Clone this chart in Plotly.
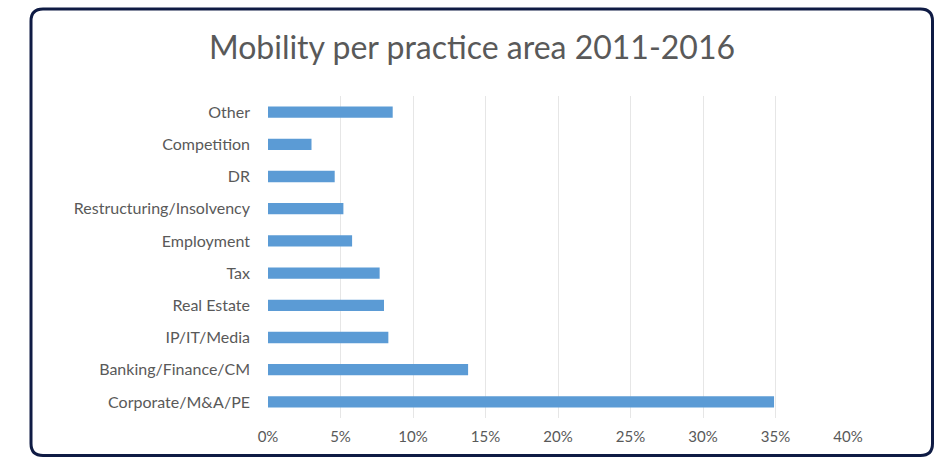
import plotly.graph_objects as go

categories = ["Corporate/M&A/PE", "Banking/Finance/CM", "IP/IT/Media", "Real Estate", "Tax",
              "Employment", "Restructuring/Insolvency", "DR", "Competition", "Other"]
values = [34.9, 13.8, 8.3, 8.0, 7.7, 5.8, 5.2, 4.6, 3.0, 8.6]
tick_vals = [0, 5, 10, 15, 20, 25, 30, 35, 40]
tick_text = ["0%", "5%", "10%", "15%", "20%", "25%", "30%", "35%", "40%"]

W, H = 944, 458
L, R, T, B = 268, 96, 96, 40
pw, ph = W - L - R, H - T - B

def px_x(p):
    return (p - L) / pw

def px_y(p):
    return (H - B - p) / ph

fig = go.Figure(go.Bar(
    x=values, y=categories, orientation="h",
    marker=dict(color="#5b9bd5", line=dict(width=0)),
    hoverinfo="x+y",
))

# rounded border
x0, x1, y0, y1, r = 31, 932.5, 9, 455.5, 12
rx, ry = r / pw, r / ph
X0, X1, Y0, Y1 = px_x(x0), px_x(x1), px_y(y0), px_y(y1)
path = (f"M {X0+rx},{Y0} L {X1-rx},{Y0} Q {X1},{Y0} {X1},{Y0-ry} "
        f"L {X1},{Y1+ry} Q {X1},{Y1} {X1-rx},{Y1} "
        f"L {X0+rx},{Y1} Q {X0},{Y1} {X0},{Y1+ry} "
        f"L {X0},{Y0-ry} Q {X0},{Y0} {X0+rx},{Y0} Z")

fig.update_layout(
    width=W, height=H,
    margin=dict(l=L, r=R, t=T, b=B),
    paper_bgcolor="white", plot_bgcolor="white",
    showlegend=False,
    bargap=0.65,
    font=dict(family="Lato, Open Sans, sans-serif", size=15, color="#595959"),
    title=dict(text="Mobility per practice area 2011-2016", x=472 / W, xanchor="center",
               y=1 - 48 / H, yanchor="middle", yref="container",
               font=dict(family="Lato, Open Sans, sans-serif", size=32, color="#595959")),
    xaxis=dict(range=[0, 40], tickvals=tick_vals, ticktext=tick_text, showgrid=True,
               gridcolor="#e6e6e6", gridwidth=1, zeroline=False, showline=False,
               ticks="", ticklabelstandoff=8, tickfont=dict(size=15, color="#595959")),
    yaxis=dict(showgrid=False, zeroline=False, showline=False, ticks="",
               ticklabelstandoff=17, tickfont=dict(size=16, color="#595959")),
    shapes=[dict(type="path", path=path, xref="paper", yref="paper",
                 line=dict(color="#0f1b44", width=3), fillcolor="rgba(0,0,0,0)", layer="above")],
)

fig.write_html("out.html", config={"displayModeBar": False},
               post_script="document.body.style.margin='0';")
